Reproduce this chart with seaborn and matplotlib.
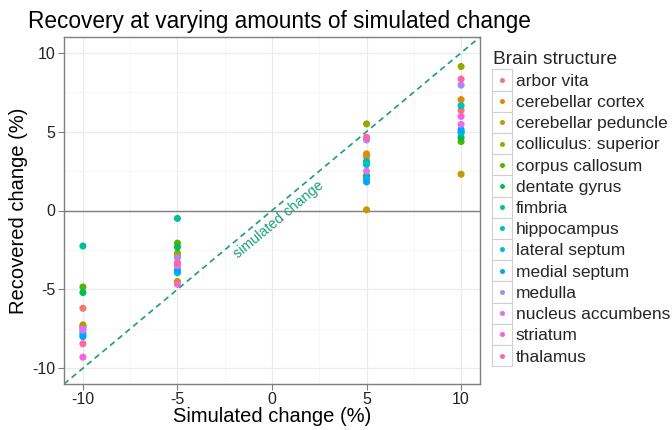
import numpy as np
import pandas as pd
import matplotlib
matplotlib.use("Agg")
import matplotlib.pyplot as plt
from matplotlib.patches import Rectangle
from matplotlib.lines import Line2D
import seaborn as sns

# ---- data ----
structures = ["arbor vita", "cerebellar cortex", "cerebellar peduncle",
              "colliculus: superior", "corpus callosum", "dentate gyrus",
              "fimbria", "hippocampus", "lateral septum", "medial septum",
              "medulla", "nucleus accumbens", "striatum", "thalamus"]
simulated = [-10, -5, 5, 10]
rec_m10 = [-6.2, -7.4, -7.25, -7.35, -4.85, -5.2, -2.25, -7.9, -7.75, -8.0, -7.6, -7.5, -9.3, -8.45]
rec_m5 = [-3.4, -2.9, -4.5, -2.7, -2.07, -2.32, -0.5, -3.85, -3.95, -3.75, -3.0, -3.5, -4.68, -3.3]
rec_p5 = [3.4, 3.59, 0.04, 5.49, 2.15, 2.2, 3.12, 2.91, 2.0, 1.81, 4.47, 2.49, 4.64, 4.6]
rec_p10 = [6.35, 7.03, 2.30, 9.13, 4.37, 4.62, 4.92, 6.65, 5.0, 5.13, 7.95, 5.46, 5.97, 8.33]
x_ticks = [-10, -5, 0, 5, 10]
title = "Recovery at varying amounts of simulated change"
xlabel = "Simulated change (%)"
ylabel = "Recovered change (%)"
legend_title = "Brain structure"
line_label = "simulated change"

rows = []
for sim, vals in zip(simulated, [rec_m10, rec_m5, rec_p5, rec_p10]):
    for s, v in zip(structures, vals):
        rows.append({"simulated": sim, "recovered": v, "structure": s})
df = pd.DataFrame(rows)


def hcl_hex(h, c=100.0, l=65.0):
    Xn, Yn, Zn = 95.047, 100.0, 108.883
    hr = np.deg2rad(h)
    U, V = c * np.cos(hr), c * np.sin(hr)
    Y = Yn * ((l + 16) / 116) ** 3
    den = Xn + 15 * Yn + 3 * Zn
    un, vn = 4 * Xn / den, 9 * Yn / den
    u = U / (13 * l) + un
    v = V / (13 * l) + vn
    X = 9 * Y * u / (4 * v)
    Z = 3 * Y / v - X / 3 - 5 * Y
    M = np.array([[3.240479, -1.537150, -0.498535],
                  [-0.969256, 1.875992, 0.041556],
                  [0.055648, -0.204043, 1.057311]])
    lin = M @ (np.array([X, Y, Z]) / 100.0)
    rgb = np.where(lin > 0.0031308, 1.055 * np.clip(lin, 0, None) ** (1 / 2.4) - 0.055, 12.92 * lin)
    rgb = np.clip(rgb, 0, 1)
    return "#%02x%02x%02x" % tuple(int(round(x * 255)) for x in rgb)


n = len(structures)
colors = [hcl_hex(15 + i * 360 / n) for i in range(n)]
palette = dict(zip(structures, colors))

sns.set_theme(style="white")
plt.rcParams["font.family"] = ["Liberation Sans", "DejaVu Sans"]

W, H = 672, 430
fig = plt.figure(figsize=(W / 100, H / 100), dpi=100)
L, R, T, B = 64, 480, 37, 384
ax = fig.add_axes([L / W, 1 - B / H, (R - L) / W, (B - T) / H])

ax.set_xlim(-11, 11)
ax.set_ylim(-11, 11)
ax.set_xticks(x_ticks)
ax.set_yticks(x_ticks)
ax.set_xticks([-7.5, -2.5, 2.5, 7.5], minor=True)
ax.set_yticks([-7.5, -2.5, 2.5, 7.5], minor=True)
ax.grid(True, which="major", color="#EBEBEB", lw=0.9)
ax.grid(True, which="minor", color="#F5F5F5", lw=0.6)
ax.set_axisbelow(True)

ax.axhline(0, color="#7F7F7F", lw=1.0, zorder=1)
dash_col = "#1B9E77"
ax.axline((0, 0), slope=1, color=dash_col, lw=1.2, ls=(0, (3.5, 2.5)), zorder=1.5)
ax.text(0.37, -0.57, line_label, rotation=39.8, rotation_mode="anchor",
        ha="center", va="center", color=dash_col, fontsize=10.3)

sns.scatterplot(data=df, x="simulated", y="recovered", hue="structure",
                hue_order=structures, palette=palette, s=26, linewidth=0,
                legend=False, ax=ax, zorder=3)

for sp in ax.spines.values():
    sp.set_color("#7F7F7F")
    sp.set_linewidth(1.0)
ax.tick_params(which="major", direction="out", length=4, width=0.8, color="#7F7F7F",
               labelsize=11.5, labelcolor="#222222", pad=2, bottom=True, left=True)
ax.tick_params(which="minor", length=0)
ax.set_xticklabels([str(t) for t in x_ticks])
ax.set_yticklabels([str(t) for t in x_ticks])
ax.set_xlabel(xlabel, fontsize=14.5, color="black", labelpad=0)
ax.set_ylabel(ylabel, fontsize=14.5, color="black", labelpad=3)

fig.text(28 / W, 1 - 28 / H, title, fontsize=16.3, color="black", ha="left", va="baseline")

# manual legend (ggplot-style keys)
def fx(px):
    return px / W

def fy(py):
    return 1 - py / H

fig.text(fx(493), fy(64), legend_title, fontsize=13.8, ha="left", va="baseline")
box_top, box_h, box_l, box_w = 69.3, 21.2, 492, 20
for i, (s, c) in enumerate(zip(structures, colors)):
    top = box_top + i * box_h
    fig.add_artist(Rectangle((fx(box_l), fy(top + box_h)), box_w / W, box_h / H,
                             transform=fig.transFigure, facecolor="white",
                             edgecolor="#D0D0D0", lw=0.8))
    fig.add_artist(Line2D([fx(box_l + box_w / 2)], [fy(top + box_h / 2)], marker="o",
                          markersize=3.6, color=c, markeredgewidth=0,
                          transform=fig.transFigure))
    fig.text(fx(515.5), fy(top + box_h / 2), s, fontsize=12.5, ha="left", va="center_baseline")

fig.savefig("out.png", dpi=100)
